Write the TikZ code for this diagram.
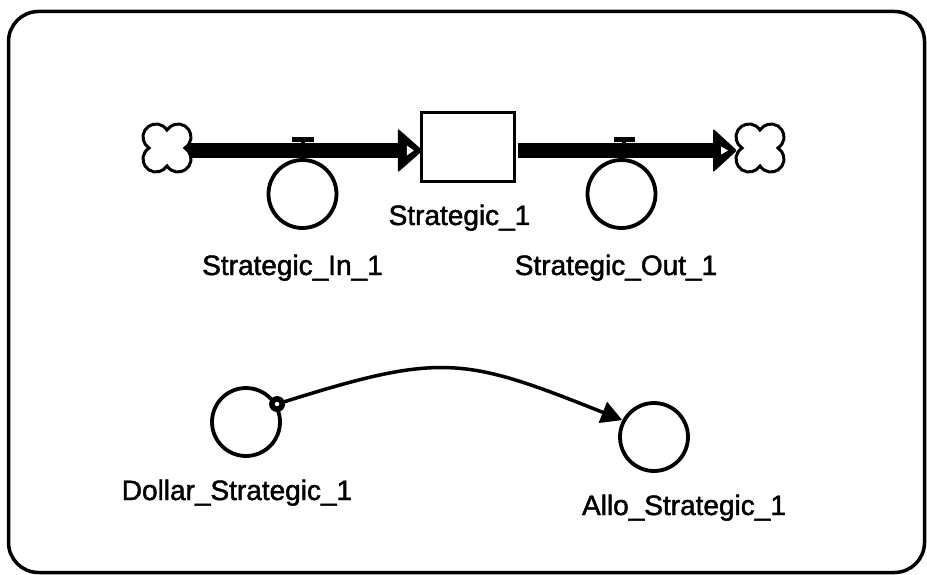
\documentclass[tikz,border=0pt]{standalone}
\usepackage{fontspec}
\setmainfont{Liberation Sans}
\newfontfamily\lblfont[FakeBold=1.6]{Liberation Sans}
\usetikzlibrary{arrows.meta,calc}
\begin{document}
\begin{tikzpicture}[x=1pt,y=-1pt,
  aux/.style={circle,draw,line width=3.8pt,minimum size=68pt,inner sep=0pt,fill=white},
  stockbox/.style={draw,line width=3.5pt,minimum width=93pt,minimum height=69pt,inner sep=0pt,fill=white},
  lbl/.style={anchor=base,inner sep=0pt,font=\lblfont\fontsize{28}{34}\selectfont},
  pipe/.style={line width=15pt},
  link/.style={line width=3.5pt,-{Triangle[length=21pt,width=22pt]}},
  cloudpic/.pic={\draw[line width=3pt,fill=white]
     (17.93,0) arc[start angle=-57.8,end angle=147.8,radius=13]
     arc[start angle=32.2,end angle=237.8,radius=13]
     arc[start angle=122.2,end angle=327.8,radius=13]
     arc[start angle=212.2,end angle=417.8,radius=13] -- cycle;}
]
\useasboundingbox (0,0) rectangle (927,575);
\draw[line width=3.5pt,rounded corners=30pt] (8.5,11.5) rectangle (924.5,572.5);

% nodes
\node[stockbox] (stock) at (468,147) {};
\node[aux] (inflow) at (302.5,194) {};
\node[aux] (outflow) at (621.5,194) {};
\node[aux] (dollar) at (246,422) {};
\node[aux] (allo) at (654,437) {};
\coordinate (srcL) at (167,148);
\coordinate (sinkR) at (760,148);

% valve bars and stems
\fill ($(inflow.north)+(-10.5,-21)$) rectangle ++(22,4.5);
\fill ($(inflow.north)+(-1.5,-17)$) rectangle ++(4,6);
\fill ($(outflow.north)+(-8,-21)$) rectangle ++(21,4.5);
\fill ($(outflow.north)+(0.5,-17)$) rectangle ++(4,6);

% pipes
\coordinate (pipeL) at ([xshift=18pt,yshift=-2.5pt]srcL);
\coordinate (tipA) at ([xshift=3pt]pipeL -| stock.west);
\coordinate (pipeR) at ([xshift=1.5pt]pipeL -| stock.east);
\coordinate (tipB) at ([xshift=-23pt,yshift=-2.5pt]sinkR);
\draw[pipe] (pipeL) -- ([xshift=-22pt]tipA);
\draw[pipe] (pipeR) -- ([xshift=-22pt]tipB);

% clouds
\pic at (srcL) {cloudpic};
\pic at (sinkR) {cloudpic};

% flow arrowheads
\fill[rounded corners=2pt] (tipA) ++(-25,-22) -- (tipA) -- ++(-25,22) -- cycle;
\fill[white] (tipA) ++(-16,-5) -- ++(7,5) -- ++(-7,5) -- cycle;
\fill[rounded corners=2pt] (tipB) ++(-24,-22) -- (tipB) -- ++(-24,22) -- cycle;
\fill[white] (tipB) ++(-16,-4) -- ++(7,4) -- ++(-7,4) -- cycle;

% redraw stock box border on top
\node[stockbox,fill=none] at (stock) {};

% connector
\draw[link] (dollar.30) .. controls +(164,-52) and +(-160,-64) .. (allo.152);
\fill (dollar.30) circle (8pt);
\fill[white] (dollar.30) circle (2.2pt);

% labels
\node[lbl] (stockL) at (459.5,225) {Strategic\_1};
\node[lbl] (inL) at (292.5,275) {Strategic\_In\_1};
\node[lbl] (outL) at (616,275) {Strategic\_Out\_1};
\node[lbl] (dollarL) at (237,500) {Dollar\_Strategic\_1};
\node[lbl] (alloL) at (684,515) {Allo\_Strategic\_1};
\end{tikzpicture}
\end{document}
